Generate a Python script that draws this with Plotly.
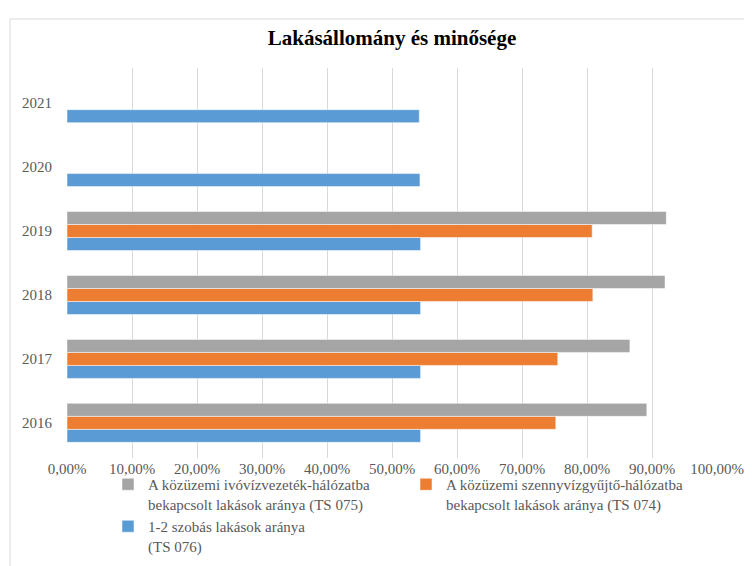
import plotly.graph_objects as go

years = ["2016", "2017", "2018", "2019", "2020", "2021"]
rooms_1_2 = [0.544, 0.544, 0.544, 0.544, 0.543, 0.542]          # TS 076
sewer = [0.752, 0.755, 0.809, 0.808, None, None]                  # TS 074
water = [0.892, 0.866, 0.920, 0.922, None, None]                  # TS 075

names = {
    "water": "A közüzemi ivóvízvezeték-hálózatba<br>bekapcsolt lakások aránya (TS 075)",
    "sewer": "A közüzemi szennyvízgyűjtő-hálózatba<br>bekapcsolt lakások aránya (TS 074)",
    "rooms": "1-2 szobás lakások aránya<br>(TS 076)",
}
xticks = [0, 0.1, 0.2, 0.3, 0.4, 0.5, 0.6, 0.7, 0.8, 0.9, 1.0]

font = "Liberation Serif, Times New Roman, serif"
W, H = 752, 566
L, R, T, B = 59, 43, 60, 116
PW, PH = W - L - R, H - T - B
fig = go.Figure()
fig.add_trace(go.Bar(y=years, x=rooms_1_2, orientation="h", name=names["rooms"],
                     marker=dict(color="#5B9BD5", line=dict(color="white", width=0.5)),
                     legendrank=3))
fig.add_trace(go.Bar(y=years, x=sewer, orientation="h", name=names["sewer"],
                     marker=dict(color="#ED7D31", line=dict(color="white", width=0.5)),
                     legendrank=2))
fig.add_trace(go.Bar(y=years, x=water, orientation="h", name=names["water"],
                     marker=dict(color="#A5A5A5", line=dict(color="white", width=0.5)),
                     legendrank=1))

fig.update_layout(
    width=W, height=H,
    margin=dict(l=L, r=R, t=T, b=B, autoexpand=False),
    paper_bgcolor="white", plot_bgcolor="white",
    separators=", ",
    barmode="group", bargap=0.39, bargroupgap=0,
    font=dict(family=font, size=15, color="#595959"),
    title=dict(text="<b>Lakásállomány és minősége</b>", x=0.5, xref="paper",
               y=1 - 30 / H, yref="container", yanchor="middle",
               font=dict(family=font, size=21, color="black")),
    showlegend=True,
    legend=dict(orientation="h", xref="paper", x=(100 - L) / PW, xanchor="left",
                yref="container", y=1 - 460 / H, yanchor="top",
                entrywidth=253, entrywidthmode="pixels", valign="top",
                font=dict(family=font, size=15, color="#595959"),
                itemwidth=30, tracegroupgap=0, bgcolor="rgba(0,0,0,0)"),
    xaxis=dict(range=[0, 1.0], tickvals=xticks, tickformat=".2%", automargin=False,
               showgrid=True, gridcolor="#D9D9D9", gridwidth=1,
               zeroline=False, showline=False, ticks="",
               tickfont=dict(family=font, size=15, color="#595959")),
    yaxis=dict(type="category", categoryorder="array", categoryarray=years,
               range=[-0.55, 5.55], showgrid=False, zeroline=False, automargin=False,
               showline=False, ticks="", ticklabelstandoff=14,
               tickfont=dict(family=font, size=15, color="#595959")),
    shapes=[dict(type="rect", xref="paper", yref="paper",
                 x0=(2 - L) / PW, x1=1.2,
                 y0=-0.5, y1=((H - B) - 11) / PH,
                 line=dict(color="#D9D9D9", width=1), fillcolor="rgba(0,0,0,0)",
                 layer="below")],
)

fig.write_html("out.html")
